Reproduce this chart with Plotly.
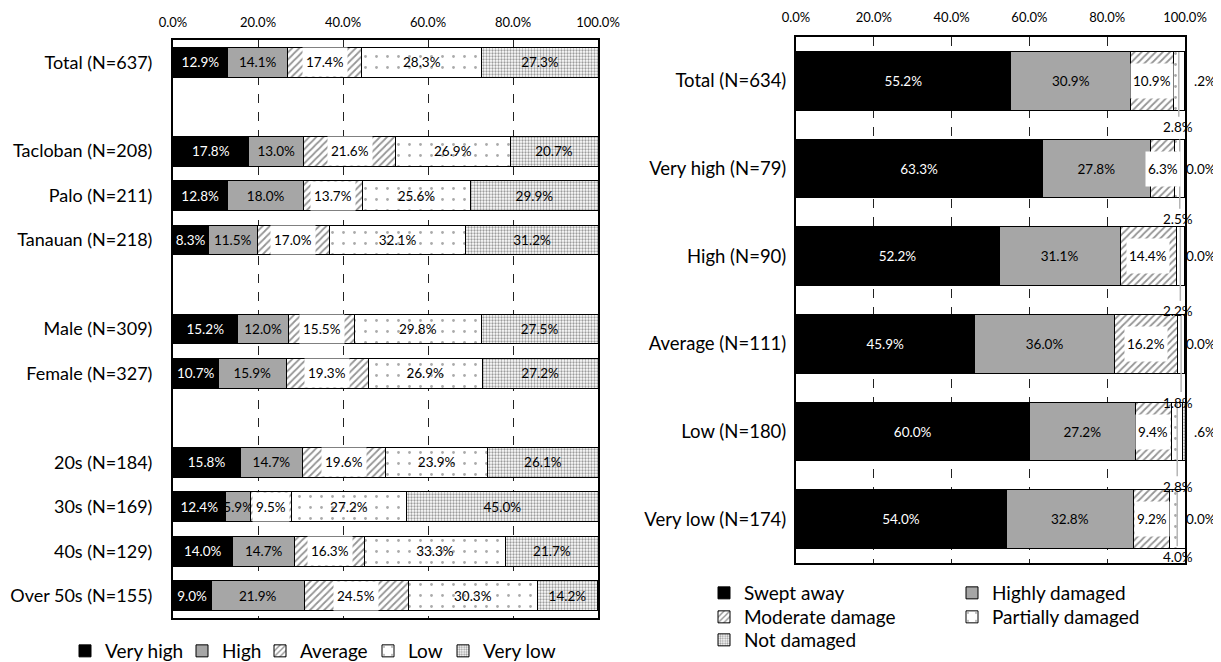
import plotly.graph_objects as go

# ---------------- data ----------------
left_categories = ["Total (N=637)", "", "Tacloban (N=208)", "Palo (N=211)", "Tanauan (N=218)", "",
                   "Male (N=309)", "Female (N=327)", "", "20s (N=184)", "30s (N=169)",
                   "40s (N=129)", "Over 50s (N=155)"]
left_series = ["Very high", "High", "Average", "Low", "Very low"]
very_high = [12.9, None, 17.8, 12.8, 8.3, None, 15.2, 10.7, None, 15.8, 12.4, 14.0, 9.0]
high = [14.1, None, 13.0, 18.0, 11.5, None, 12.0, 15.9, None, 14.7, 5.9, 14.7, 21.9]
average = [17.4, None, 21.6, 13.7, 17.0, None, 15.5, 19.3, None, 19.6, 9.5, 16.3, 24.5]
low = [28.3, None, 26.9, 25.6, 32.1, None, 29.8, 26.9, None, 23.9, 27.2, 33.3, 30.3]
very_low = [27.3, None, 20.7, 29.9, 31.2, None, 27.5, 27.2, None, 26.1, 45.0, 21.7, 14.2]

right_categories = ["Total (N=634)", "Very high (N=79)", "High (N=90)", "Average (N=111)",
                    "Low (N=180)", "Very low (N=174)"]
right_series = ["Swept away", "Highly damaged", "Moderate damage", "Partially damaged", "Not damaged"]
swept_away = [55.2, 63.3, 52.2, 45.9, 60.0, 54.0]
highly_damaged = [30.9, 27.8, 31.1, 36.0, 27.2, 32.8]
moderate_damage = [10.9, 6.3, 14.4, 16.2, 9.4, 9.2]
partially_damaged = [2.8, 2.5, 2.2, 1.8, 2.8, 4.0]
not_damaged = [0.2, 0.0, 0.0, 0.0, 0.6, 0.0]

x_ticks = [0, 20, 40, 60, 80, 100]

# ---------------- style ----------------
FONT = "Lato, 'Open Sans', sans-serif"
OFF = 8                      # page body margin in the browser
W, H = 1221 - OFF, 662 - OFF
GRAY = "#a6a6a6"
pd_label_dy = [0.53, 0.58, 0.63, 0.67, 0.63, 0.43]  # label offsets (style only)
# legend text start positions in screen px (x, y centre) -- style only
left_legend_pos = [(106, 651), (223, 651), (301, 651), (409, 651), (484, 651)]
right_legend_pos = [(745, 593), (993, 593), (745, 617), (993, 617), (745, 640)]


def fmt(v):
    if v is None:
        return ""
    return f"{v:.1f}%"


def fmt_clipped(v):
    s = f"{v:.1f}%"
    return s[1:] if 0 < v < 1 else s


def px_x(p):
    return (p - OFF) / W


def px_y(p):
    return (H - (p - OFF)) / H


styles = [
    dict(color="black", pattern=dict(shape="")),
    dict(color=GRAY, pattern=dict(shape="")),
    dict(color="white", pattern=dict(shape="/", fgcolor="#2a2a2a", bgcolor="white", size=5, solidity=0.35)),
    dict(color="white", pattern=dict(shape=".", fgcolor="#555555", bgcolor="white", size=11, solidity=0.05)),
    dict(color="white", pattern=dict(shape=".", fgcolor="#3a3a3a", bgcolor="white", size=3, solidity=0.45)),
]
text_colors = ["white", "black", "black", "black", "black"]

fig = go.Figure()
legend_layouts = {}

# ---------------- left chart ----------------
left_vals = [very_high, high, average, low, very_low]
rows_l = list(range(len(left_categories)))
for k, (name, vals) in enumerate(zip(left_series, left_vals)):
    show_text = k != 2
    lg = "legend" if k == 0 else f"legend{k + 1}"
    tx, ty = left_legend_pos[k]
    legend_layouts[lg] = dict(orientation="v", x=px_x(tx - 41), xanchor="left", y=px_y(ty),
                              yanchor="middle", font=dict(size=19), bgcolor="rgba(0,0,0,0)")
    fig.add_trace(go.Bar(
        name=name, orientation="h", x=vals, y=rows_l,
        xaxis="x", yaxis="y",
        marker=dict(color=styles[k]["color"], pattern=styles[k]["pattern"],
                    line=dict(color="black", width=1)),
        text=[fmt(v) for v in vals] if show_text else None,
        textposition="inside" if show_text else "none",
        insidetextanchor="middle", textangle=0, constraintext="none",
        textfont=dict(family=FONT, size=13.5, color=text_colors[k]),
        legend=lg, showlegend=True, hoverinfo="skip",
    ))

annotations = []
for i in rows_l:
    if average[i] is None:
        continue
    start = very_high[i] + high[i]
    annotations.append(dict(
        x=start + average[i] / 2, y=i, xref="x", yref="y", text=fmt(average[i]),
        showarrow=False, bgcolor="white", borderpad=3, height=22,
        font=dict(family=FONT, size=13.5, color="black"),
    ))

# ---------------- right chart ----------------
right_vals = [swept_away, highly_damaged, moderate_damage, partially_damaged, not_damaged]
rows_r = list(range(len(right_categories)))
for k, (name, vals) in enumerate(zip(right_series, right_vals)):
    show_text = k in (0, 1)
    lg = f"legend{k + 6}"
    tx, ty = right_legend_pos[k]
    legend_layouts[lg] = dict(orientation="v", x=px_x(tx - 41), xanchor="left", y=px_y(ty),
                              yanchor="middle", font=dict(size=19), bgcolor="rgba(0,0,0,0)")
    fig.add_trace(go.Bar(
        name=name, orientation="h", x=vals, y=rows_r,
        xaxis="x2", yaxis="y2",
        marker=dict(color=styles[k]["color"], pattern=styles[k]["pattern"],
                    line=dict(color="black", width=1)),
        text=[fmt(v) for v in vals] if show_text else None,
        textposition="inside" if show_text else "none",
        insidetextanchor="middle", textangle=0, constraintext="none",
        textfont=dict(family=FONT, size=13.5, color=text_colors[k]),
        legend=lg, showlegend=True, hoverinfo="skip",
    ))

shapes = []
for i in rows_r:
    start = swept_away[i] + highly_damaged[i]
    annotations.append(dict(
        x=start + moderate_damage[i] / 2, y=i, xref="x2", yref="y2",
        text=fmt(moderate_damage[i]), showarrow=False, bgcolor="white",
        borderpad=2, height=30,
        font=dict(family=FONT, size=13.5, color="black"),
    ))
    pd_center = start + moderate_damage[i] + partially_damaged[i] / 2
    annotations.append(dict(
        x=100, y=i + pd_label_dy[i], xref="x2", yref="y2",
        xanchor="right", xshift=10, text=fmt(partially_damaged[i]), showarrow=False,
        font=dict(family=FONT, size=13.5, color="black"),
    ))
    shapes.append(dict(
        type="line", xref="x2", yref="y2", x0=pd_center, x1=pd_center,
        y0=i - 0.33, y1=i + pd_label_dy[i] - 0.12,
        line=dict(color="#b5b5b5", width=1.5),
    ))
    annotations.append(dict(
        x=100, y=i, xref="x2", yref="y2", xanchor="right", xshift=33,
        text=fmt_clipped(not_damaged[i]), showarrow=False,
        font=dict(family=FONT, size=13.5, color="black"),
    ))

axis_common = dict(
    showline=True, mirror=True, linecolor="black", linewidth=2,
    zeroline=False, ticks="", automargin=False,
)

fig.update_layout(
    width=W, height=H,
    margin=dict(l=0, r=0, t=0, b=0, autoexpand=False),
    paper_bgcolor="white", plot_bgcolor="white",
    barmode="stack", bargap=0.33,
    font=dict(family=FONT, color="black"),
    xaxis=dict(domain=[px_x(173), px_x(598)], range=[0, 100], side="top",
               tickvals=x_ticks, ticktext=[f"{t:.1f}%" for t in x_ticks],
               tickfont=dict(size=13), showgrid=True, gridcolor="#222222",
               griddash="dash", gridwidth=1, anchor="y", ticklabelstandoff=6, **axis_common),
    yaxis=dict(domain=[px_y(618), px_y(40)], range=[len(left_categories) - 0.5, -0.5],
               tickvals=rows_l, ticktext=left_categories, tickfont=dict(size=18),
               showgrid=False, ticklabelstandoff=15, anchor="x", **axis_common),
    xaxis2=dict(domain=[px_x(796), px_x(1185)], range=[0, 100], side="top",
                tickvals=x_ticks, ticktext=[f"{t:.1f}%" for t in x_ticks],
                tickfont=dict(size=13), showgrid=True, gridcolor="#222222",
                griddash="dash", gridwidth=1, anchor="y2", ticklabelstandoff=8, **axis_common),
    yaxis2=dict(domain=[px_y(563), px_y(37)], range=[len(right_categories) - 0.5, -0.5],
                tickvals=rows_r, ticktext=right_categories, tickfont=dict(size=18.5),
                showgrid=False, ticklabelstandoff=4, anchor="x2", **axis_common),
    annotations=annotations,
    shapes=shapes,
    **legend_layouts,
)

fig.write_html("out.html")
